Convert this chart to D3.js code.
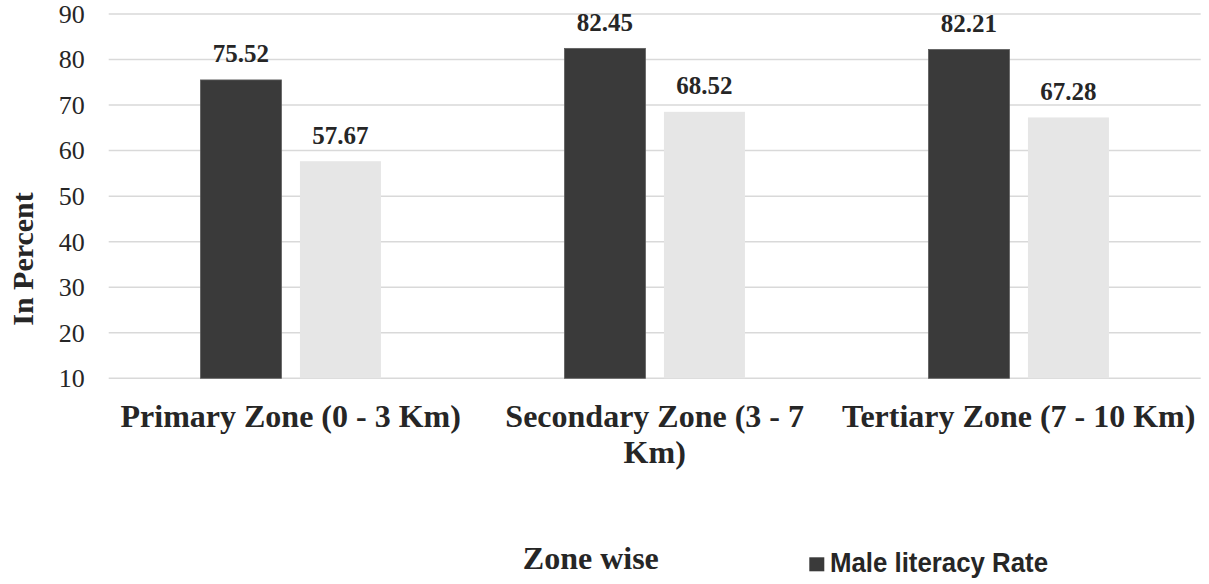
<!DOCTYPE html>
<html>
<head>
<meta charset="utf-8">
<script src="https://cdn.jsdelivr.net/npm/d3@7"></script>
<style>
  html, body { margin: 0; padding: 0; background: #fff; }
  svg { display: block; }
</style>
</head>
<body>
<svg id="chart" width="1209" height="584"></svg>
<script>
const categories = ["Primary Zone (0 - 3 Km)", "Secondary Zone (3 - 7 Km)", "Tertiary Zone (7 - 10 Km)"];
const seriesNames = ["Male literacy Rate", "Female literacy Rate"];
const maleValues = [75.52, 82.45, 82.21];
const femaleValues = [57.67, 68.52, 67.28];
const yTicks = [10, 20, 30, 40, 50, 60, 70, 80, 90];
const xTitle = "Zone wise";
const yTitle = "In Percent";
const colors = ["#3a3a3a", "#e6e6e6"];
const strokes = ["#5e5e5e", "none"];

const serif = "'Liberation Serif', 'Times New Roman', Times, serif";
const narrow = "'Liberation Sans Narrow', 'Arial Narrow', 'Liberation Sans', Arial, sans-serif";
const textColor = "#262626";

const svg = d3.select("#chart");
const plotLeft = 108.7, plotRight = 1200.7, plotTop = 14, plotBottom = 378.3;

const x = d3.scaleBand().domain(categories).range([plotLeft, plotRight]).paddingInner(0).paddingOuter(0);
const xs = d3.scaleBand().domain(seriesNames).range([0, x.bandwidth()]).paddingInner(0.186).paddingOuter(0.922);
const y = d3.scaleLinear().domain([10, 90]).range([plotBottom, plotTop]);

// gridlines
svg.append("g").selectAll("line").data(yTicks).join("line")
  .attr("x1", plotLeft).attr("x2", plotRight)
  .attr("y1", d => y(d)).attr("y2", d => y(d))
  .attr("stroke", "#d9d9d9").attr("stroke-width", 1.5);

// y axis labels
const yAxis = d3.axisLeft(y).tickValues(yTicks).tickSize(0).tickPadding(0);
const gy = svg.append("g").attr("transform", `translate(${plotLeft - 24},0)`).call(yAxis);
gy.select(".domain").remove();
gy.selectAll("text").attr("font-family", serif).attr("font-size", 26).attr("fill", textColor);

const data = categories.map((c, i) => ({ cat: c, vals: [maleValues[i], femaleValues[i]] }));

const groups = svg.append("g").selectAll("g").data(data).join("g")
  .attr("transform", d => `translate(${x(d.cat)},0)`);

groups.selectAll("rect").data(d => d.vals.map((v, j) => ({ v, s: seriesNames[j], j }))).join("rect")
  .attr("x", d => xs(d.s))
  .attr("width", xs.bandwidth())
  .attr("y", d => y(d.v))
  .attr("height", d => y(10) - y(d.v))
  .attr("fill", d => colors[d.j])
  .attr("stroke", d => strokes[d.j])
  .attr("stroke-width", 0.8);

groups.selectAll("text.val").data(d => d.vals.map((v, j) => ({ v, s: seriesNames[j], j }))).join("text")
  .attr("class", "val")
  .attr("x", d => xs(d.s) + xs.bandwidth() / 2)
  .attr("y", d => y(d.v) - 17.5)
  .attr("text-anchor", "middle")
  .attr("font-family", serif).attr("font-weight", "bold").attr("font-size", 25)
  .attr("fill", textColor)
  .text(d => d.v.toFixed(2));

// x axis category labels with wrapping
const xAxis = d3.axisBottom(x).tickSize(0).tickPadding(0);
const gx = svg.append("g").attr("transform", `translate(0,${plotBottom})`).call(xAxis);
gx.select(".domain").remove();
gx.selectAll("text")
  .attr("font-family", serif).attr("font-weight", "bold").attr("font-size", 32)
  .attr("fill", textColor)
  .attr("dy", null)
  .attr("y", 48.4)
  .each(function (d) {
    const t = d3.select(this);
    const words = d.split(" ");
    const maxW = x.bandwidth();
    t.text(null);
    let line = [];
    let tspan = t.append("tspan").attr("x", 0).attr("dy", 0);
    for (const w of words) {
      line.push(w);
      tspan.text(line.join(" "));
      if (tspan.node().getComputedTextLength() > maxW && line.length > 1) {
        line.pop();
        tspan.text(line.join(" "));
        line = [w];
        tspan = t.append("tspan").attr("x", 0).attr("dy", 36.3).text(w);
      }
    }
  });

// y title
svg.append("text")
  .attr("transform", `translate(33.3,259) rotate(-90)`)
  .attr("text-anchor", "middle")
  .attr("font-family", serif).attr("font-weight", "bold").attr("font-size", 30)
  .attr("fill", textColor)
  .text(yTitle);

// x title
svg.append("text")
  .attr("x", 590.8).attr("y", 569)
  .attr("text-anchor", "middle")
  .attr("font-family", serif).attr("font-weight", "bold").attr("font-size", 32)
  .attr("fill", textColor)
  .text(xTitle);

// legend (only first series visible)
const legend = svg.append("g").attr("transform", "translate(809.3,557.3)");
legend.append("rect").attr("width", 15).attr("height", 14).attr("fill", colors[0]);
legend.append("text")
  .attr("x", 20.7).attr("y", 15)
  .attr("font-family", narrow).attr("font-weight", "bold").attr("font-size", 28)
  .attr("textLength", 218).attr("lengthAdjust", "spacingAndGlyphs")
  .attr("fill", textColor)
  .text(seriesNames[0]);
</script>
</body>
</html>
